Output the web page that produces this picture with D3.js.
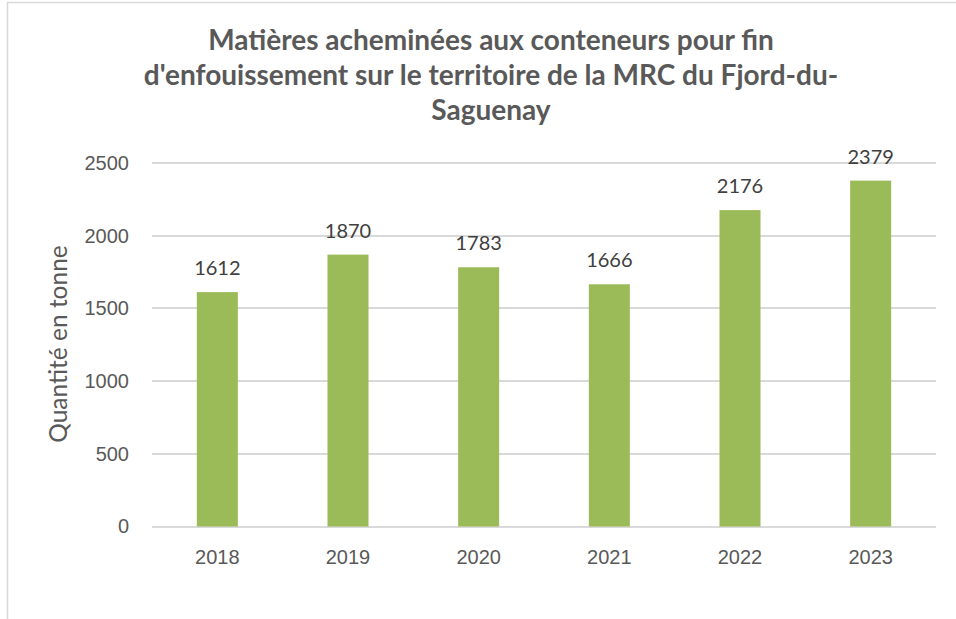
<!DOCTYPE html>
<meta charset="utf-8">
<style>
    body { margin: 0; background: #fff; }
    svg { font-family: Lato, "Open Sans", sans-serif; }
    .axis path, .axis line { display: none; }
    .axis text { fill: #595959; font-size: 20px; }
    .grid line { stroke: #d9d9d9; stroke-width: 2; shape-rendering: crispEdges; }
</style>

<div class="chart"></div>

<script src="https://cdn.jsdelivr.net/npm/d3@7"></script>

<script>
    // values
    var years = ["2018", "2019", "2020", "2021", "2022", "2023"];
    var tonnes = [1612, 1870, 1783, 1666, 2176, 2379];
    var yTicks = [0, 500, 1000, 1500, 2000, 2500];
    var titleLines = [
        "Matières acheminées aux conteneurs pour fin",
        "d'enfouissement sur le territoire de la MRC du Fjord-du-",
        "Saguenay"
    ];

    var svgW = 956, svgH = 619;
    var plot = {left: 152, right: 936, top: 163, bottom: 526.5};

    var svg = d3.select('.chart')
        .append("svg")
        .attr("width", svgW)
        .attr("height", svgH);

    // chart frame (left and top edges visible in the crop)
    svg.append("line")
        .attr("x1", 7.5).attr("x2", 7.5)
        .attr("y1", 2).attr("y2", svgH)
        .attr("stroke", "#d9d9d9").attr("stroke-width", 1.5);
    svg.append("line")
        .attr("x1", 7).attr("x2", svgW)
        .attr("y1", 2.5).attr("y2", 2.5)
        .attr("stroke", "#d9d9d9").attr("stroke-width", 1.5);

    var xScale = d3.scaleBand()
        .domain(years)
        .range([plot.left, plot.right])
        .paddingInner(0.686)
        .paddingOuter(0.343);

    var yScale = d3.scaleLinear()
        .domain([0, 2500])
        .range([plot.bottom, plot.top]);

    // gridlines
    svg.append("g")
        .attr("class", "grid")
        .selectAll("line")
        .data(yTicks)
        .enter().append("line")
        .attr("x1", plot.left)
        .attr("x2", plot.right)
        .attr("y1", function(d) { return yScale(d); })
        .attr("y2", function(d) { return yScale(d); });

    // bars
    var data = years.map(function(y, i) { return {year: y, value: tonnes[i]}; });

    svg.append("g")
        .selectAll("rect")
        .data(data)
        .enter().append("rect")
        .attr("x", function(d) { return xScale(d.year); })
        .attr("width", xScale.bandwidth())
        .attr("y", function(d) { return yScale(d.value); })
        .attr("height", function(d) { return yScale(0) - yScale(d.value); })
        .attr("fill", "#9bbb59");

    // data labels
    svg.append("g")
        .selectAll("text")
        .data(data)
        .enter().append("text")
        .attr("x", function(d) { return xScale(d.year) + xScale.bandwidth() / 2; })
        .attr("y", function(d) { return yScale(d.value) - 17; })
        .attr("text-anchor", "middle")
        .attr("fill", "#404040")
        .style("font-size", "20px")
        .text(function(d) { return d.value; });

    // axes
    var yAxis = d3.axisLeft(yScale)
        .tickValues(yTicks)
        .tickFormat(d3.format("d"))
        .tickSize(0)
        .tickPadding(23);

    svg.append("g")
        .attr("class", "y axis")
        .attr("transform", "translate(" + plot.left + ",0)")
        .call(yAxis);

    var xAxis = d3.axisBottom(xScale)
        .tickSize(0)
        .tickPadding(23);

    svg.append("g")
        .attr("class", "x axis")
        .attr("transform", "translate(0," + plot.bottom + ")")
        .call(xAxis);

    // axis title
    svg.append("text")
        .attr("transform", "translate(67,344) rotate(-90)")
        .attr("text-anchor", "middle")
        .attr("fill", "#595959")
        .style("font-size", "24.5px")
        .text("Quantité en tonne");

    // chart title
    svg.append("g")
        .selectAll("text")
        .data(titleLines)
        .enter().append("text")
        .attr("x", 491)
        .attr("y", function(d, i) { return 50 + i * 35; })
        .attr("text-anchor", "middle")
        .attr("fill", "#595959")
        .style("font-size", "28px")
        .style("font-weight", "bold")
        .text(function(d) { return d; });
</script>
